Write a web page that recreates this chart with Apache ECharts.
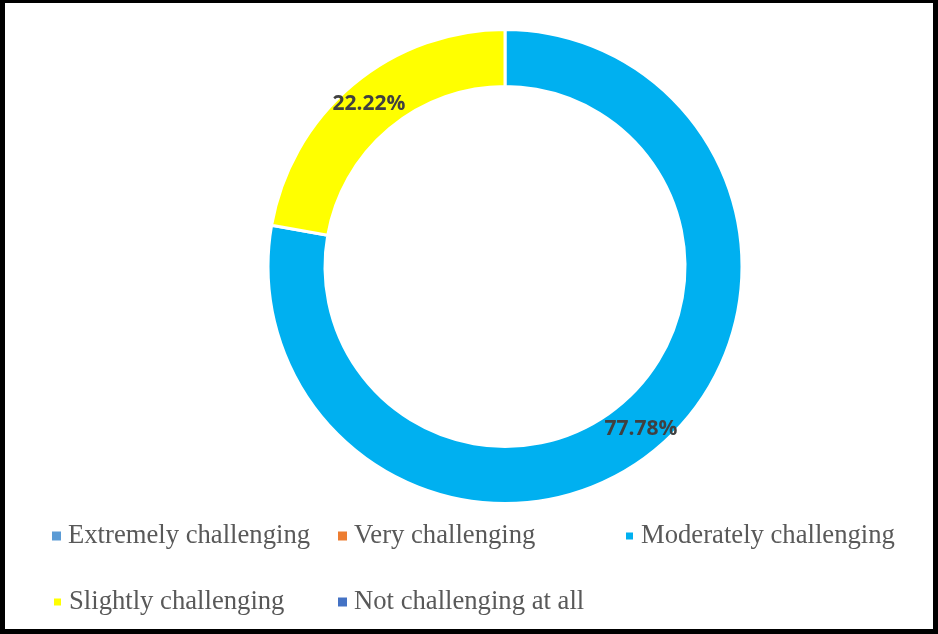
<!DOCTYPE html>
<html>
<head>
<meta charset="utf-8">
<script src="https://cdn.jsdelivr.net/npm/echarts@6/dist/echarts.min.js"></script>
<style>
html,body{margin:0;padding:0;background:#fff;}
#chart{position:absolute;left:0;top:0;width:938px;height:634px;}
#frame{position:absolute;left:0;top:0;width:938px;height:634px;box-sizing:border-box;border-style:solid;border-color:#000;border-width:3px 5px 5px 5px;pointer-events:none;}
</style>
</head>
<body>
<div id="chart"></div>
<div id="frame"></div>
<script>
const categories = ["Extremely challenging", "Very challenging", "Moderately challenging", "Slightly challenging", "Not challenging at all"];
const values = [0, 0, 77.78, 22.22, 0];
const colors = ["#5B9BD5", "#ED7D31", "#00B0F0", "#FFFF00", "#4472C4"];
// draw order (clockwise from top) follows the picture: Moderately, then Slightly
const drawOrder = [2, 3, 0, 1, 4];
const legendPos = [[52, 535], [338, 535], [624, 535], [52, 601], [338, 601]];

const chart = echarts.init(document.getElementById('chart'), null, {renderer: 'canvas'});

const pieData = drawOrder.map(i => ({
  name: categories[i],
  value: values[i],
  itemStyle: {color: colors[i], borderWidth: values[i] > 0 ? 3 : 0},
  label: {show: values[i] > 0}
}));

const legends = categories.map((c, i) => ({
  data: [c],
  left: legendPos[i][0],
  top: legendPos[i][1] - 15,
  orient: 'horizontal',
  icon: 'rect',
  itemWidth: 9,
  itemHeight: 9,
  padding: 0,
  selectedMode: false,
  textStyle: {
    fontFamily: '"Liberation Serif", "Times New Roman", serif',
    fontSize: 26.67,
    color: '#595959',
    padding: [0, 0, 0, 2],
    lineHeight: 32
  }
}));

chart.setOption({
  animation: false,
  color: colors,
  legend: legends,
  series: [{
    type: 'pie',
    center: [505, 266.5],
    radius: [180, 237],
    startAngle: 90,
    clockwise: true,
    avoidLabelOverlap: false,
    minAngle: 0,
    itemStyle: {borderColor: '#fff'},
    label: {
      position: 'inside',
      formatter: p => p.value.toFixed(2) + '%',
      fontFamily: '"Open Sans", "Noto Sans", sans-serif',
      fontWeight: 'bold',
      fontSize: 21,
      color: '#404040'
    },
    labelLine: {show: false},
    emphasis: {disabled: true},
    data: pieData
  }]
});
</script>
</body>
</html>
